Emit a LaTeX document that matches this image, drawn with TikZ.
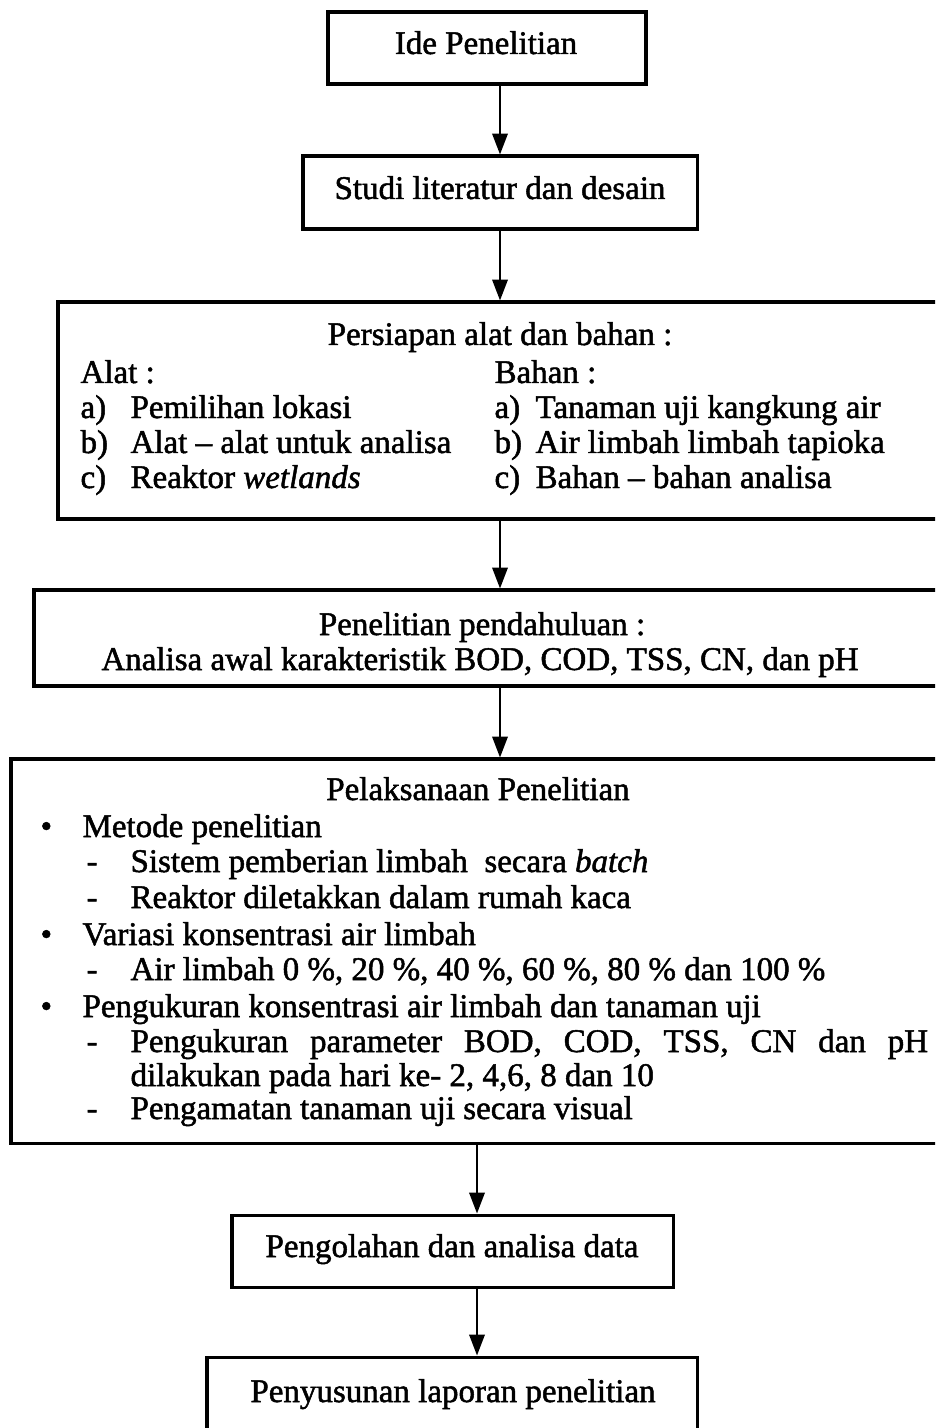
\documentclass[tikz,border=0pt]{standalone}
\usepackage{fontspec}
\setmainfont{Liberation Serif}[FakeBold=1.5]
\usetikzlibrary{arrows.meta,fit}
\tikzset{
  box/.style={draw, line width=1.1pt, inner sep=0pt},
  txt/.style={anchor=base, inner sep=0pt, font=\fontsize{12}{13}\selectfont},
  ltxt/.style={anchor=base west, inner sep=0pt, font=\fontsize{12}{13}\selectfont},
  flow/.style={line width=0.8pt, -{Triangle[width=5.6pt,length=7.6pt]}},
}
\begin{document}
\begin{tikzpicture}[x=0.3636pt, y=-0.3636pt]
\useasboundingbox (0,0) rectangle (935,1428);
\clip (0,0) rectangle (935,1428);

% boxes
\node[box, fit={(328,12) (646,84)}] (b1) {};
\node[box, fit={(303,156) (697,229)}] (b2) {};
\node[box, fit={(58,302) (950,519)}] (b3) {};
\node[box, fit={(34,590) (950,686)}] (b4) {};
\node[box, fit={(11,759) (950,1143)}] (b5) {};
\node[box, fit={(232,1215) (673,1287)}] (b6) {};
\node[box, fit={(207,1357) (697,1460)}] (b7) {};

% box 1, 2
\node[txt] (t1) at (486,54) {Ide Penelitian};
\node[txt] (t2) at (500,199) {Studi literatur dan desain};

% box 3
\node[txt] (t3) at (500,345) {Persiapan alat dan bahan :};
\node[ltxt] (t3a) at (80,383) {Alat :};
\node[ltxt] (t3a1) at (80,418) {a)};
\node[ltxt] (t3a1t) at (130,418) {Pemilihan lokasi};
\node[ltxt] (t3a2) at (80,453) {b)};
\node[ltxt] (t3a2t) at (130,453) {Alat -- alat untuk analisa};
\node[ltxt] (t3a3) at (80,488) {c)};
\node[ltxt] (t3a3t) at (130,488) {Reaktor \textit{wetlands}};
\node[ltxt] (t3b) at (494,383) {Bahan :};
\node[ltxt] (t3b1) at (494,418) {a)};
\node[ltxt] (t3b1t) at (535,418) {Tanaman uji kangkung air};
\node[ltxt] (t3b2) at (494,453) {b)};
\node[ltxt] (t3b2t) at (535,453) {Air limbah limbah tapioka};
\node[ltxt] (t3b3) at (494,488) {c)};
\node[ltxt] (t3b3t) at (535,488) {Bahan -- bahan analisa};

% box 4
\node[txt] (t4a) at (482,635) {Penelitian pendahuluan :};
\node[txt] (t4b) at (480,670) {Analisa awal karakteristik BOD, COD, TSS, CN, dan pH};

% box 5
\node[txt] (t5) at (478,800) {Pelaksanaan Penelitian};
\node[ltxt] (u1) at (40,837) {•};
\node[ltxt] (u1t) at (82,837) {Metode penelitian};
\node[ltxt] (d11) at (86,872) {-};
\node[ltxt] (d11t) at (130,872) {Sistem pemberian limbah\ \ secara \textit{batch}};
\node[ltxt] (d12) at (86,908) {-};
\node[ltxt] (d12t) at (130,908) {Reaktor diletakkan dalam rumah kaca};
\node[ltxt] (u2) at (40,945) {•};
\node[ltxt] (u2t) at (82,945) {Variasi konsentrasi air limbah};
\node[ltxt] (d21) at (86,980) {-};
\node[ltxt] (d21t) at (130,980) {Air limbah 0 \%, 20 \%, 40 \%, 60 \%, 80 \% dan 100 \%};
\node[ltxt] (u3) at (40,1017) {•};
\node[ltxt] (u3t) at (82,1017) {Pengukuran konsentrasi air limbah dan tanaman uji};
\node[ltxt] (d31) at (86,1052) {-};
\node[ltxt] (d31t) at (130,1052) {\makebox[290pt][s]{Pengukuran parameter BOD, COD, TSS, CN dan pH}};
\node[ltxt] (d31u) at (130,1086) {dilakukan pada hari ke- 2, 4,6, 8 dan 10};
\node[ltxt] (d32) at (86,1119) {-};
\node[ltxt] (d32t) at (130,1119) {Pengamatan tanaman uji secara visual};

% box 6, 7
\node[txt] (t6) at (452,1257) {Pengolahan dan analisa data};
\node[txt] (t7) at (453,1402) {Penyusunan laporan penelitian};

% arrows
\coordinate (ax) at (500,0);
\coordinate (bx) at (477,0);
\draw[flow] (b1.south -| ax) -- (b2.north -| ax);
\draw[flow] (b2.south -| ax) -- (b3.north -| ax);
\draw[flow] (b3.south -| ax) -- (b4.north -| ax);
\draw[flow] (b4.south -| ax) -- (b5.north -| ax);
\draw[flow] (b5.south -| bx) -- (b6.north -| bx);
\draw[flow] (b6.south -| bx) -- (b7.north -| bx);
\end{tikzpicture}
\end{document}
